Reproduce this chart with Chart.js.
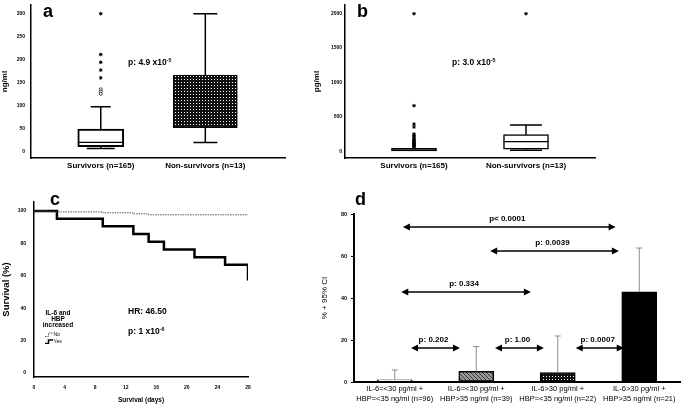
<!DOCTYPE html>
<html>
<head>
<meta charset="utf-8">
<script src="https://cdn.jsdelivr.net/npm/chart.js@4.4.1/dist/chart.umd.min.js"></script>
<style>
  body { margin: 0; width: 684px; height: 405px; position: relative; overflow: hidden; background: #fff;
         font-family: "Liberation Sans", Arial, sans-serif; }
  canvas { position: absolute; }
  .lbl { position: absolute; font-weight: bold; white-space: nowrap; line-height: 1; color: #000; }
  .lbl sup { font-size: 62%; vertical-align: 0; position: relative; top: -0.5em; }
  .letter { font-size: 18px; }
  .p { font-size: 8.5px; }
  .leg { font-size: 5px; font-weight: normal; }
  .leg svg { vertical-align: middle; margin-right: 0.5px; }
</style>
</head>
<body>
<canvas id="chartA" width="300" height="180" style="left:0;top:0"></canvas>
<canvas id="chartB" width="300" height="180" style="left:310px;top:0"></canvas>
<canvas id="chartC" width="300" height="210" style="left:0;top:195px"></canvas>
<canvas id="chartD" width="379" height="210" style="left:305px;top:195px"></canvas>

<div class="lbl letter" style="left:43px;top:2px">a</div>
<div class="lbl letter" style="left:357px;top:2px">b</div>
<div class="lbl letter" style="left:50px;top:190px">c</div>
<div class="lbl letter" style="left:355px;top:190px">d</div>
<div class="lbl p" style="left:128px;top:58px">p: 4.9 x10<sup>-5</sup></div>
<div class="lbl p" style="left:452px;top:58px">p: 3.0 x10<sup>-5</sup></div>
<div class="lbl p" style="left:128px;top:307px">HR: 46.50</div>
<div class="lbl p" style="left:128px;top:327px">p: 1 x10<sup>-6</sup></div>
<div class="lbl" style="left:33px;top:310px;width:50px;text-align:center;font-size:6.5px;line-height:6px">IL-6 and<br>HBP<br>increased</div>
<div class="lbl leg" style="left:45px;top:332px"><svg width="8" height="5"><path d="M0 4.5H3.5V1H8" fill="none" stroke="#333" stroke-width="0.8" stroke-dasharray="1 0.6"/></svg>No</div>
<div class="lbl leg" style="left:45px;top:339px"><svg width="8" height="5"><path d="M0 4.5H3.5V1H8" fill="none" stroke="#000" stroke-width="1.5"/></svg>Yes</div>

<script>
// ---- data ----
const groups = ['Survivors (n=165)', 'Non-survivors (n=13)'];

// a: HBP, ng/ml
const hbpMin = [6, 19];
const hbpQ1 = [10, 51];
const hbpMed = [19, 120];
const hbpQ3 = [48, 166];
const hbpMax = [97, 300];
const hbpStars = [300, 211, 194, 177, 160];
const hbpCircles = [135, 130, 125];
const hbpTicks = [0, 50, 100, 150, 200, 250, 300];

// b: IL-6, pg/ml
const il6Min = [5, 15];
const il6Q1 = [5, 30];
const il6Med = [20, 140];
const il6Q3 = [40, 240];
const il6Max = [55, 380];
const il6StarsSurv = [2000, 662, 394, 352, 250, 230, 210, 190, 175, 160, 145, 130, 120, 110, 100, 90, 80, 70, 60];
const il6StarsNon = [2000];
const il6Ticks = [0, 500, 1000, 1500, 2000];

// c: survival curves
const kmDaysYes = [0, 3, 9, 13, 15, 17, 21, 25, 28];
const kmSurvYes = [100, 95.2, 90.5, 85.7, 81.0, 76.2, 71.4, 66.7, 57.1];
const kmDaysNo = [0, 2, 9, 13, 15, 28];
const kmSurvNo = [100, 99.4, 98.8, 98.2, 97.6, 97.6];
const kmTicksX = [0, 4, 8, 12, 16, 20, 24, 28];
const kmTicksY = [0, 20, 40, 60, 80, 100];

// d: mortality by group
const dCats = [
  ['IL-6=<30 pg/ml +', 'HBP=<35 ng/ml (n=96)'],
  ['IL-6=<30 pg/ml +', 'HBP>35 ng/ml (n=39)'],
  ['IL-6>30 pg/ml +', 'HBP=<35 ng/ml (n=22)'],
  ['IL-6>30 pg/ml +', 'HBP>35 ng/ml (n=21)']
];
const dPct = [1.0, 5.1, 4.5, 42.9];
const dUpper = [5.7, 16.9, 21.9, 63.8];
const dTicks = [0, 20, 40, 60, 80];
// comparison arrows (category index from / to, level in %)
const cmpFrom = [0.10, 1.17, 0.08, 0.20, 1.23, 2.22];
const cmpTo = [2.71, 2.75, 1.67, 0.80, 1.83, 2.81];
const cmpY = [73.8, 62.4, 42.9, 16.2, 16.2, 16.2];
const cmpText = ['p< 0.0001', 'p: 0.0039', 'p: 0.334', 'p: 0.202', 'p: 1.00', 'p: 0.0007'];

// ---- defaults ----
Chart.defaults.font.family = '"Liberation Sans", Arial, sans-serif';
Chart.defaults.color = '#000';
Chart.defaults.animation = false;
Chart.defaults.responsive = false;
Chart.defaults.devicePixelRatio = 1;
Chart.defaults.plugins.legend.display = false;
Chart.defaults.plugins.tooltip.enabled = false;

function pattern(size, draw) {
  const c = document.createElement('canvas');
  c.width = c.height = size;
  const g = c.getContext('2d');
  draw(g, size);
  return g.createPattern(c, 'repeat');
}
const dots = pattern(3, (g, s) => {
  g.fillStyle = '#111'; g.fillRect(0, 0, s, s);
  g.fillStyle = '#fff'; g.fillRect(1, 1, 1, 1);
});
const hatch = pattern(4, (g, s) => {
  g.fillStyle = '#9a9a9a'; g.fillRect(0, 0, s, s);
  g.strokeStyle = '#333'; g.lineWidth = 1;
  g.beginPath(); g.moveTo(0, 0); g.lineTo(s, s); g.moveTo(-1, s - 1); g.lineTo(1, s + 1);
  g.moveTo(s - 1, -1); g.lineTo(s + 1, 1); g.stroke();
});

const fixY = w => s => { s.width = w; s.paddingTop = 0; s.paddingBottom = 0; };
const fixX = h => s => { s.height = h; s.paddingLeft = 0; s.paddingRight = 0; };
const setTicks = list => s => { s.ticks = list.map(v => ({value: v})); };
const noGrid = {display: false, drawTicks: false, offset: false};

// whiskers + medians for the box plots
function whiskers(mins, q1s, meds, q3s, maxs, capTop, capBot) {
  return {
    id: 'whiskers',
    beforeDatasetsDraw(chart) {
      const {ctx, scales: {x, y}} = chart;
      ctx.save();
      ctx.strokeStyle = '#000';
      ctx.lineWidth = 1.5;
      q1s.forEach((q1, i) => {
        const px = x.getPixelForValue(i + 1);
        const yt = y.getPixelForValue(maxs[i]), yb = y.getPixelForValue(mins[i]);
        ctx.beginPath();
        ctx.moveTo(px, y.getPixelForValue(q3s[i])); ctx.lineTo(px, yt);
        ctx.moveTo(px, y.getPixelForValue(q1)); ctx.lineTo(px, yb);
        if (capTop[i]) { ctx.moveTo(px - capTop[i], yt); ctx.lineTo(px + capTop[i], yt); }
        if (capBot[i]) { ctx.moveTo(px - capBot[i], yb); ctx.lineTo(px + capBot[i], yb); }
        ctx.stroke();
      });
      ctx.restore();
    },
    afterDatasetsDraw(chart) {
      const {ctx, scales: {y}} = chart;
      ctx.save();
      ctx.strokeStyle = '#000';
      ctx.lineWidth = 1.2;
      meds.forEach((m, i) => {
        const box = chart.getDatasetMeta(i).data[0];
        const py = y.getPixelForValue(m);
        ctx.beginPath();
        ctx.moveTo(box.x - box.width / 2, py);
        ctx.lineTo(box.x + box.width / 2, py);
        ctx.stroke();
      });
      ctx.restore();
    }
  };
}

function boxPanel(id, o) {
  const boxes = o.q1.map((q1, i) => ({
    type: 'bar',
    data: [{x: i + 1, y: [q1, o.q3[i]]}],
    backgroundColor: o.fill[i],
    borderColor: '#000',
    borderWidth: o.border[i],
    borderSkipped: false,
    barThickness: o.width[i],
    grouped: false
  }));
  const outliers = o.outliers.map(set => ({
    type: 'line',
    data: set.values.map(v => ({x: set.group, y: v})),
    showLine: false,
    pointStyle: set.style,
    pointRadius: set.style === 'circle' ? 1.5 : 1.8,
    pointBackgroundColor: '#fff',
    pointBorderColor: '#000',
    pointBorderWidth: set.style === 'circle' ? 0.7 : 1
  }));
  return new Chart(document.getElementById(id), {
    type: 'bar',
    data: {datasets: boxes.concat(outliers)},
    options: {
      layout: {padding: {left: 0, top: 0, right: o.padRight, bottom: 0}},
      scales: {
        x: {
          type: 'linear', min: o.xMin, max: o.xMax, offset: false,
          afterBuildTicks: setTicks(groups.map((g, i) => i + 1)),
          afterFit: fixX(22),
          ticks: {callback: v => groups[v - 1], font: {size: 8, weight: 'bold'}, padding: 3, maxRotation: 0, autoSkip: false},
          grid: noGrid,
          border: {color: '#000', width: 1.5}
        },
        y: {
          min: o.yMin, max: o.yMax,
          afterBuildTicks: setTicks(o.ticks),
          afterFit: fixY(o.yWidth),
          ticks: {callback: v => String(v), font: {size: 5, weight: 'bold'}, padding: o.tickPad},
          grid: noGrid,
          border: {color: '#000', width: 1.5},
          title: {display: true, text: o.title, font: {size: 8, weight: 'bold'}, padding: {top: o.titlePad, bottom: 0}}
        }
      }
    },
    plugins: [whiskers(o.min, o.q1, o.med, o.q3, o.max, o.capTop, o.capBot)]
  });
}

// a
boxPanel('chartA', {
  min: hbpMin, q1: hbpQ1, med: hbpMed, q3: hbpQ3, max: hbpMax,
  fill: ['#fff', dots], border: [2, 1], width: [46, 64],
  capTop: [10, 12], capBot: [14, 12],
  outliers: [{group: 1, values: hbpStars, style: 'star'}, {group: 1, values: hbpCircles, style: 'circle'}],
  xMin: 0.333, xMax: 2.762, yMin: -15, yMax: 319, ticks: hbpTicks,
  yWidth: 31, tickPad: 6, padRight: 15, title: 'ng/ml', titlePad: 0
});

// b
boxPanel('chartB', {
  min: il6Min, q1: il6Q1, med: il6Med, q3: il6Q3, max: il6Max,
  fill: ['#fff', '#fff'], border: [1.5, 1.5], width: [45, 45],
  capTop: [0, 16], capBot: [0, 16],
  outliers: [{group: 1, values: il6StarsSurv, style: 'star'}, {group: 2, values: il6StarsNon, style: 'star'}],
  xMin: 0.384, xMax: 2.616, yMin: -99, yMax: 2127, ticks: il6Ticks,
  yWidth: 35, tickPad: 3, padRight: 15, title: 'pg/ml', titlePad: 2
});

// c
new Chart(document.getElementById('chartC'), {
  type: 'line',
  data: {
    datasets: [
      {
        data: kmDaysNo.map((d, i) => ({x: d, y: kmSurvNo[i]})),
        stepped: true, borderColor: '#555', borderWidth: 1, borderDash: [1.5, 1], pointRadius: 0
      },
      {
        data: kmDaysYes.map((d, i) => ({x: d, y: kmSurvYes[i]})),
        stepped: true, borderColor: '#000', borderWidth: 2.5, pointRadius: 0
      }
    ]
  },
  options: {
    layout: {padding: {left: 0, top: 7, right: 52, bottom: 0}},
    scales: {
      x: {
        type: 'linear', min: 0, max: 28,
        afterBuildTicks: setTicks(kmTicksX),
        afterFit: fixX(28),
        ticks: {font: {size: 5, weight: 'bold'}, padding: 8, maxRotation: 0, autoSkip: false},
        grid: noGrid,
        border: {color: '#000', width: 1.5},
        title: {display: true, text: 'Survival (days)', font: {size: 6.5, weight: 'bold'}, padding: {top: 0, bottom: 1}}
      },
      y: {
        min: -2.5, max: 105.5,
        afterBuildTicks: setTicks(kmTicksY),
        afterFit: fixY(34),
        ticks: {font: {size: 5, weight: 'bold'}, padding: 8},
        grid: noGrid,
        border: {color: '#000', width: 1.5},
        title: {display: true, text: 'Survival (%)', font: {size: 9.5, weight: 'bold'}, padding: {top: 1, bottom: 0}}
      }
    }
  }
});

// d
const arrows = {
  id: 'arrows',
  afterDatasetsDraw(chart) {
    const {ctx, scales: {x, y}} = chart;
    ctx.save();
    // error bars
    ctx.strokeStyle = '#8c8c8c';
    ctx.lineWidth = 1;
    dPct.forEach((v, i) => {
      const px = x.getPixelForValue(i), top = y.getPixelForValue(dUpper[i]);
      ctx.beginPath();
      ctx.moveTo(px, y.getPixelForValue(v)); ctx.lineTo(px, top);
      ctx.moveTo(px - 3, top); ctx.lineTo(px + 3, top);
      ctx.stroke();
    });
    // comparisons
    ctx.strokeStyle = '#000';
    ctx.fillStyle = '#000';
    ctx.lineWidth = 1.5;
    ctx.font = 'bold 8px "Liberation Sans", Arial, sans-serif';
    ctx.textAlign = 'center';
    ctx.textBaseline = 'bottom';
    cmpFrom.forEach((f, i) => {
      const x0 = x.getPixelForValue(f), x1 = x.getPixelForValue(cmpTo[i]);
      const py = y.getPixelForValue(cmpY[i]);
      ctx.beginPath(); ctx.moveTo(x0 + 4, py); ctx.lineTo(x1 - 4, py); ctx.stroke();
      [[x0, 1], [x1, -1]].forEach(([ex, dir]) => {
        ctx.beginPath();
        ctx.moveTo(ex, py);
        ctx.lineTo(ex + 7 * dir, py - 3.5);
        ctx.lineTo(ex + 7 * dir, py + 3.5);
        ctx.closePath();
        ctx.fill();
      });
      ctx.fillText(cmpText[i], (x0 + x1) / 2 - 2, py - 4);
    });
    ctx.restore();
  }
};

new Chart(document.getElementById('chartD'), {
  type: 'bar',
  data: {
    labels: dCats,
    datasets: [{
      data: dPct,
      backgroundColor: ['#fff', hatch, dots, '#000'],
      borderColor: '#000',
      borderWidth: 1.5,
      borderSkipped: false,
      barThickness: 35
    }]
  },
  options: {
    layout: {padding: {left: 0, top: 19, right: 4, bottom: 0}},
    scales: {
      x: {
        afterFit: fixX(23),
        ticks: {font: {size: 7.5, lineHeight: 1.33}, padding: 1.5, maxRotation: 0, autoSkip: false},
        grid: {display: false, drawTicks: false},
        border: {color: '#000', width: 2}
      },
      y: {
        min: 0, max: 80,
        afterBuildTicks: setTicks(dTicks),
        afterFit: fixY(49),
        ticks: {font: {size: 5.5, weight: 'bold'}, padding: 4},
        grid: {drawOnChartArea: false, drawTicks: true, tickLength: 3, color: '#000'},
        border: {color: '#000', width: 2},
        title: {display: true, text: '% + 95% CI', font: {size: 8}, padding: {top: 15, bottom: 0}}
      }
    }
  },
  plugins: [arrows]
});
</script>
</body>
</html>
